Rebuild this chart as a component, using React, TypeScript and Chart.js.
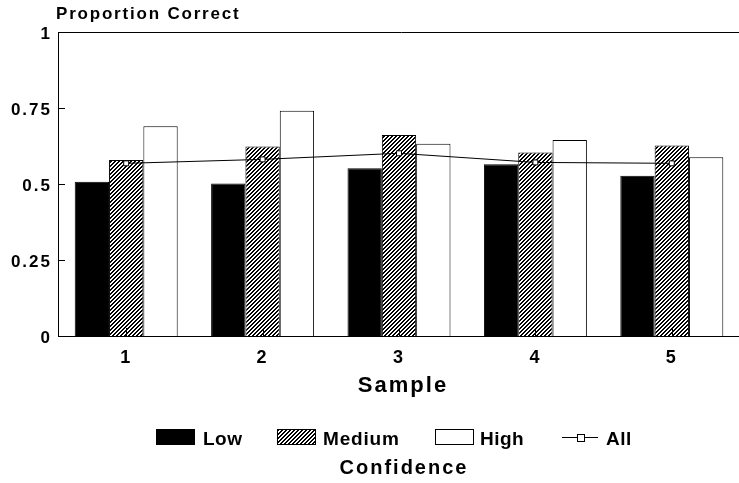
import React, { useEffect, useRef } from 'react';
import { Chart, registerables } from 'chart.js';

Chart.register(...registerables);

const categories = ['1', '2', '3', '4', '5'];
const lowValues = [0.507, 0.502, 0.552, 0.565, 0.527];
const mediumValues = [0.579, 0.623, 0.661, 0.604, 0.627];
const highValues = [0.69, 0.741, 0.632, 0.645, 0.588];
const allValues = [0.568, 0.581, 0.601, 0.571, 0.568];
const yTicks = [0, 0.25, 0.5, 0.75, 1];
const seriesNames = ['Low', 'Medium', 'High', 'All'];
const yTitle = 'Proportion Correct';
const xTitle = 'Sample';
const legendTitle = 'Confidence';

const FONT = '"Liberation Sans", Arial, Helvetica, sans-serif';

function makeHatch(): CanvasPattern | string {
  const c = document.createElement('canvas');
  c.width = 4;
  c.height = 4;
  const g = c.getContext('2d');
  if (!g) return '#888';
  g.fillStyle = '#fff';
  g.fillRect(0, 0, 4, 4);
  g.fillStyle = '#000';
  for (let i = 0; i < 4; i++) {
    g.fillRect(3 - i, i, 1, 1);
    g.fillRect((4 - i) % 4, i, 1, 1);
  }
  const p = g.createPattern(c, 'repeat');
  return p || '#888';
}

function drawText(ctx: any, text: string, x: number, y: number, size: number, spacing: number, align: CanvasTextAlign) {
  ctx.save();
  ctx.font = `bold ${size}px ${FONT}`;
  ctx.fillStyle = '#000';
  ctx.textBaseline = 'middle';
  (ctx as any).letterSpacing = `${spacing}px`;
  const w = ctx.measureText(text).width;
  let sx = x;
  if (align === 'center') sx = x - (w - spacing) / 2;
  else if (align === 'right') sx = x - (w - spacing);
  ctx.textAlign = 'left';
  ctx.fillText(text, sx, y);
  ctx.restore();
}

export default function App() {
  const ref = useRef<HTMLCanvasElement | null>(null);

  useEffect(() => {
    const canvas = ref.current;
    if (!canvas) return;
    const hatch = makeHatch();

    const decor = {
      id: 'decor',
      beforeDraw(chart: any) {
        (chart.ctx as any).letterSpacing = '2px';
      },
      afterDatasetsDraw(chart: any) {
        const { ctx, chartArea, scales } = chart;
        const { left, top, bottom } = chartArea;
        const x = scales.x;
        const y = scales.y;
        ctx.save();
        ctx.strokeStyle = '#000';
        ctx.lineWidth = 1;
        ctx.beginPath();
        ctx.moveTo(left, top + 0.5);
        ctx.lineTo(chart.width, top + 0.5);
        yTicks.forEach((v) => {
          const py = Math.round(y.getPixelForValue(v)) + 0.5;
          ctx.moveTo(left, py);
          ctx.lineTo(left + 7, py);
        });
        categories.forEach((_c, i) => {
          const px = Math.round(x.getPixelForValue(i)) + 0.5;
          ctx.moveTo(px, bottom);
          ctx.lineTo(px, bottom - 8);
        });
        ctx.stroke();
        ctx.restore();
      },
      afterDraw(chart: any) {
        const ctx = chart.ctx;
        (ctx as any).letterSpacing = '0px';
        drawText(ctx, yTitle, 56, 14, 17, 1.8, 'left');
        drawText(ctx, xTitle, 402, 386, 22, 2, 'center');
        drawText(ctx, legendTitle, 403, 468, 20, 2, 'center');

        // legend
        const ly = 429;
        const lh = 15;
        ctx.save();
        ctx.lineWidth = 1;
        ctx.strokeStyle = '#000';
        ctx.fillStyle = '#000';
        ctx.fillRect(156, ly, 39, lh + 1);
        ctx.fillStyle = hatch;
        ctx.fillRect(277, ly, 38, lh);
        ctx.strokeRect(277.5, ly + 0.5, 38, lh);
        ctx.fillStyle = '#fff';
        ctx.fillRect(435, ly, 38, lh);
        ctx.strokeRect(435.5, ly + 0.5, 38, lh);
        ctx.beginPath();
        ctx.moveTo(562, ly + 8.5);
        ctx.lineTo(598, ly + 8.5);
        ctx.stroke();
        ctx.fillStyle = '#fff';
        ctx.fillRect(577, ly + 5, 7, 7);
        ctx.strokeRect(577.5, ly + 5.5, 7, 7);
        ctx.restore();
        drawText(ctx, seriesNames[0], 203, 440, 19, 0.5, 'left');
        drawText(ctx, seriesNames[1], 323, 440, 19, 0.8, 'left');
        drawText(ctx, seriesNames[2], 480, 440, 19, 0.5, 'left');
        drawText(ctx, seriesNames[3], 606, 440, 19, 0.5, 'left');
      },
    };

    const chart = new Chart(canvas, {
      type: 'bar',
      data: {
        labels: categories,
        datasets: [
          {
            type: 'line',
            label: seriesNames[3],
            data: allValues,
            borderColor: '#000',
            borderWidth: 1,
            backgroundColor: '#fff',
            pointStyle: 'rect',
            pointRadius: 3.5,
            pointBorderWidth: 1,
            pointBackgroundColor: '#fff',
            pointBorderColor: '#000',
            fill: false,
            tension: 0,
            order: 0,
          } as any,
          {
            label: seriesNames[0],
            data: lowValues,
            backgroundColor: '#000',
            borderColor: '#000',
            borderWidth: 1,
            order: 1,
          },
          {
            label: seriesNames[1],
            data: mediumValues,
            backgroundColor: hatch as any,
            borderColor: '#000',
            borderWidth: 1,
            order: 1,
          },
          {
            label: seriesNames[2],
            data: highValues,
            backgroundColor: '#fff',
            borderColor: '#000',
            borderWidth: 1,
            order: 1,
          },
        ],
      },
      options: {
        responsive: false,
        animation: false,
        devicePixelRatio: 1,
        layout: { padding: { top: 32, left: 0, right: 0, bottom: 0 } },
        plugins: {
          legend: { display: false },
          tooltip: { enabled: false },
          title: { display: false },
        },
        datasets: {
          bar: { categoryPercentage: 0.755, barPercentage: 1.0 },
        },
        scales: {
          x: {
            grid: { display: false, drawTicks: false },
            border: { display: true, color: '#000', width: 1 },
            ticks: {
              color: '#000',
              font: { family: FONT, size: 18, weight: 'bold' },
              padding: 11,
              maxRotation: 0,
            },
            afterFit: (s: any) => {
              s.height = 147;
            },
          },
          y: {
            min: 0,
            max: 1,
            grid: { display: false, drawTicks: false },
            border: { display: true, color: '#000', width: 1 },
            afterBuildTicks: (s: any) => {
              s.ticks = yTicks.map((v) => ({ value: v }));
            },
            ticks: {
              color: '#000',
              font: { family: FONT, size: 17, weight: 'bold' },
              padding: 6,
              labelOffset: 2,
              callback: (v: any) => String(v),
            },
            afterFit: (s: any) => {
              s.width = 58;
            },
          },
        },
      },
      plugins: [decor],
    });

    return () => {
      chart.destroy();
    };
  }, []);

  return (
    <div
      style={{
        position: 'fixed',
        left: 0,
        top: 0,
        width: 739,
        height: 483,
        overflow: 'hidden',
        background: '#fff',
      }}
    >
      <canvas ref={ref} width={745} height={483} style={{ display: 'block', width: 745, height: 483 }} />
    </div>
  );
}
